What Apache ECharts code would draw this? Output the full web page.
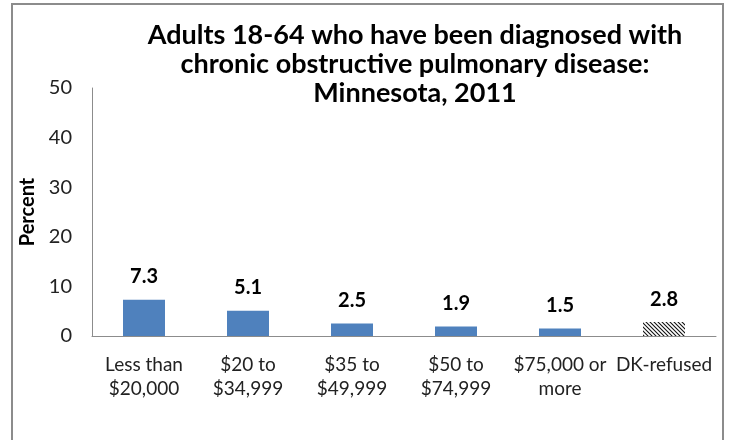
<!DOCTYPE html>
<html><head><meta charset="utf-8">
<script src="https://cdn.jsdelivr.net/npm/echarts@6/dist/echarts.min.js"></script>
<style>html,body{margin:0;padding:0;background:#fff}#c{width:732px;height:440px}</style>
</head><body><div id="c"></div>
<script>
var categories = ['Less than\n$20,000', '$20 to\n$34,999', '$35 to\n$49,999', '$50 to\n$74,999', '$75,000 or\nmore', 'DK-refused'];
var values = [7.3, 5.1, 2.5, 1.9, 1.5, 2.8];
var hatched = [false, false, false, false, false, true];
var yTicks = [0, 10, 20, 30, 40, 50];

var pc = document.createElement('canvas');
pc.width = 4; pc.height = 4;
var g = pc.getContext('2d');
g.fillStyle = '#fff'; g.fillRect(0, 0, 4, 4);
g.strokeStyle = '#111'; g.lineWidth = 1.1;
g.beginPath(); g.moveTo(-1, -1); g.lineTo(5, 5); g.stroke();
g.beginPath(); g.moveTo(-1, 3); g.lineTo(1, 5); g.stroke();
g.beginPath(); g.moveTo(3, -1); g.lineTo(5, 1); g.stroke();

var font = 'Lato, "Open Sans", sans-serif';
var chart = echarts.init(document.getElementById('c'));
chart.setOption({
  animation: false,
  textStyle: { fontFamily: font },
  graphic: [{ type: 'rect', shape: { x: 12, y: 4, width: 711, height: 450 }, style: { fill: 'none', stroke: '#8c8c8c', lineWidth: 2 } }],
  title: {
    text: 'Adults 18-64 who have been diagnosed with\nchronic obstructive pulmonary disease:\nMinnesota, 2011',
    left: 410, top: 16, textAlign: 'center',
    textStyle: { fontFamily: font, fontWeight: 'bold', fontSize: 27, lineHeight: 29, color: '#000' }
  },
  grid: { left: 92, right: 16, top: 88, bottom: 104 },
  xAxis: {
    type: 'category', data: categories,
    axisLine: { lineStyle: { color: '#8c8c8c' } },
    axisTick: { show: false },
    axisLabel: { interval: 0, color: '#222', fontSize: 19, lineHeight: 24, margin: 17, fontFamily: font }
  },
  yAxis: {
    type: 'value', min: yTicks[0], max: yTicks[yTicks.length - 1], interval: 10,
    name: 'Percent', nameLocation: 'middle', nameGap: 54,
    nameTextStyle: { fontWeight: 'bold', fontSize: 20, color: '#000', fontFamily: font },
    axisLine: { show: true, lineStyle: { color: '#8c8c8c' } },
    axisTick: { show: false },
    splitLine: { show: false },
    axisLabel: { color: '#222', fontSize: 20, margin: 20, fontFamily: font }
  },
  series: [{
    type: 'bar', barWidth: 42,
    data: values.map(function (v, i) {
      return { value: v, itemStyle: { color: hatched[i] ? { image: pc, repeat: 'repeat' } : '#4f81bd' } };
    }),
    label: { show: true, position: 'top', distance: 13, fontWeight: 'bold', fontSize: 20, color: '#000', fontFamily: font }
  }]
});
</script></body></html>
